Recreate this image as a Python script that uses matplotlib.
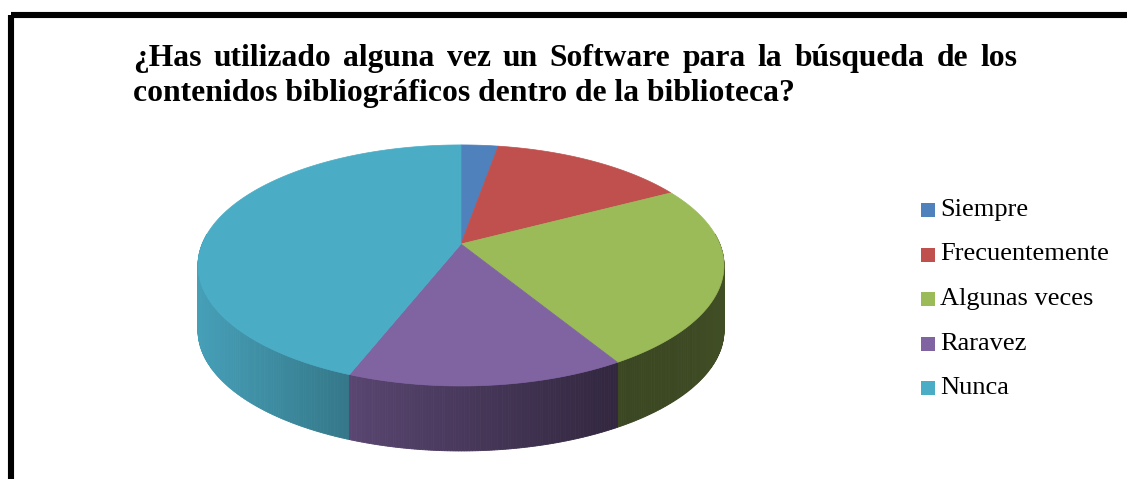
import matplotlib
matplotlib.use('Agg')
import matplotlib.pyplot as plt
import numpy as np
from matplotlib.patches import Polygon, Rectangle
from matplotlib.colors import to_rgb

# ---- data ----
categories = ['Siempre', 'Frecuentemente', 'Algunas veces', 'Raravez', 'Nunca']
counts = [3, 16, 27, 16, 49]
colors = ['#4F81BD', '#C0504D', '#9BBB59', '#8064A2', '#4BACC6']
title_lines = ['¿Has utilizado alguna vez un Software para la búsqueda de los',
               'contenidos bibliográficos dentro de la biblioteca?']

W, H = 1127, 479
fig = plt.figure(figsize=(W / 100, H / 100), dpi=100)
ax = fig.add_axes([0, 0, 1, 1])
ax.set_xlim(0, W)
ax.set_ylim(H, 0)
ax.axis('off')

# frame
ax.add_patch(Rectangle((10.5, 14.5), 1200, 600, fill=False, ec='black', lw=4.4, zorder=1))

# ---- 3D pie geometry ----
cx, cy = 461, 244
A, B, k = 258.8, 116.7, 0.178
D = 65


def proj(theta_deg):
    t = np.radians(theta_deg)
    u, v = np.sin(t), np.cos(t)
    w = 1 + k * v
    return cx + A * u / w, cy - B * v / w


def shade(x):
    return np.interp(x, [197, 346, 623, 690, 723], [0.93, 0.70, 0.38, 0.39, 0.42])


fractions = np.array(counts, dtype=float) / sum(counts)
bounds = np.concatenate([[0], np.cumsum(fractions) * 360])

strips = []
for i, col in enumerate(colors):
    a0, a1 = bounds[i], bounds[i + 1]
    lo, hi = max(a0, 85), min(a1, 275)
    if hi <= lo:
        continue
    n = max(2, int((hi - lo) / 0.5))
    th = np.linspace(lo, hi, n + 1)
    base = np.array(to_rgb(col))
    for t0, t1 in zip(th[:-1], th[1:]):
        x0, y0 = proj(t0)
        x1, y1 = proj(t1)
        f = shade((x0 + x1) / 2)
        c = np.clip(base * f, 0, 1)
        strips.append((abs((t0 + t1) / 2 - 180), [(x0, y0), (x1, y1), (x1, y1 + D), (x0, y0 + D)], c))

strips.sort(key=lambda s: -s[0])
for j, (_, pts, c) in enumerate(strips):
    ax.add_patch(Polygon(pts, closed=True, fc=c, ec=c, lw=0.6, zorder=2 + j * 1e-4))

for i, col in enumerate(colors):
    a0, a1 = bounds[i], bounds[i + 1]
    th = np.linspace(a0, a1, max(3, int((a1 - a0) * 2)))
    xs, ys = proj(th)
    pts = [(cx, cy)] + list(zip(xs, ys))
    ax.add_patch(Polygon(pts, closed=True, fc=col, ec=col, lw=0.5, zorder=5))

# ---- legend ----
leg_y = [210, 254.5, 299, 343.5, 388]
for lab, col, y in zip(categories, colors, leg_y):
    ax.add_patch(Rectangle((921, y - 7), 14, 14, fc=col, ec='none', zorder=6))
    ax.text(940, y, lab, family='Liberation Serif', size=19, va='center', ha='left', color='black')

# ---- title (first line justified) ----
r = fig.canvas.get_renderer()
tf = dict(family='Liberation Serif', weight='bold')
probe = ax.text(0, 0, title_lines[1], size=20, **tf)
wd = probe.get_window_extent(r).width
probe.remove()
fs = 20 * 662.0 / wd

x_left, x_right = 133, 1017
words = title_lines[0].split(' ')
objs = [ax.text(0, 66, w_, size=fs, va='baseline', ha='left', **tf) for w_ in words]
widths = [o.get_window_extent(r).width for o in objs]
gap = (x_right - x_left - sum(widths)) / (len(words) - 1)
x = x_left
for o, w_ in zip(objs, widths):
    o.set_x(x)
    x += w_ + gap
ax.text(x_left, 101, title_lines[1], size=fs, va='baseline', ha='left', **tf)

fig.savefig('out.png', dpi=100)
